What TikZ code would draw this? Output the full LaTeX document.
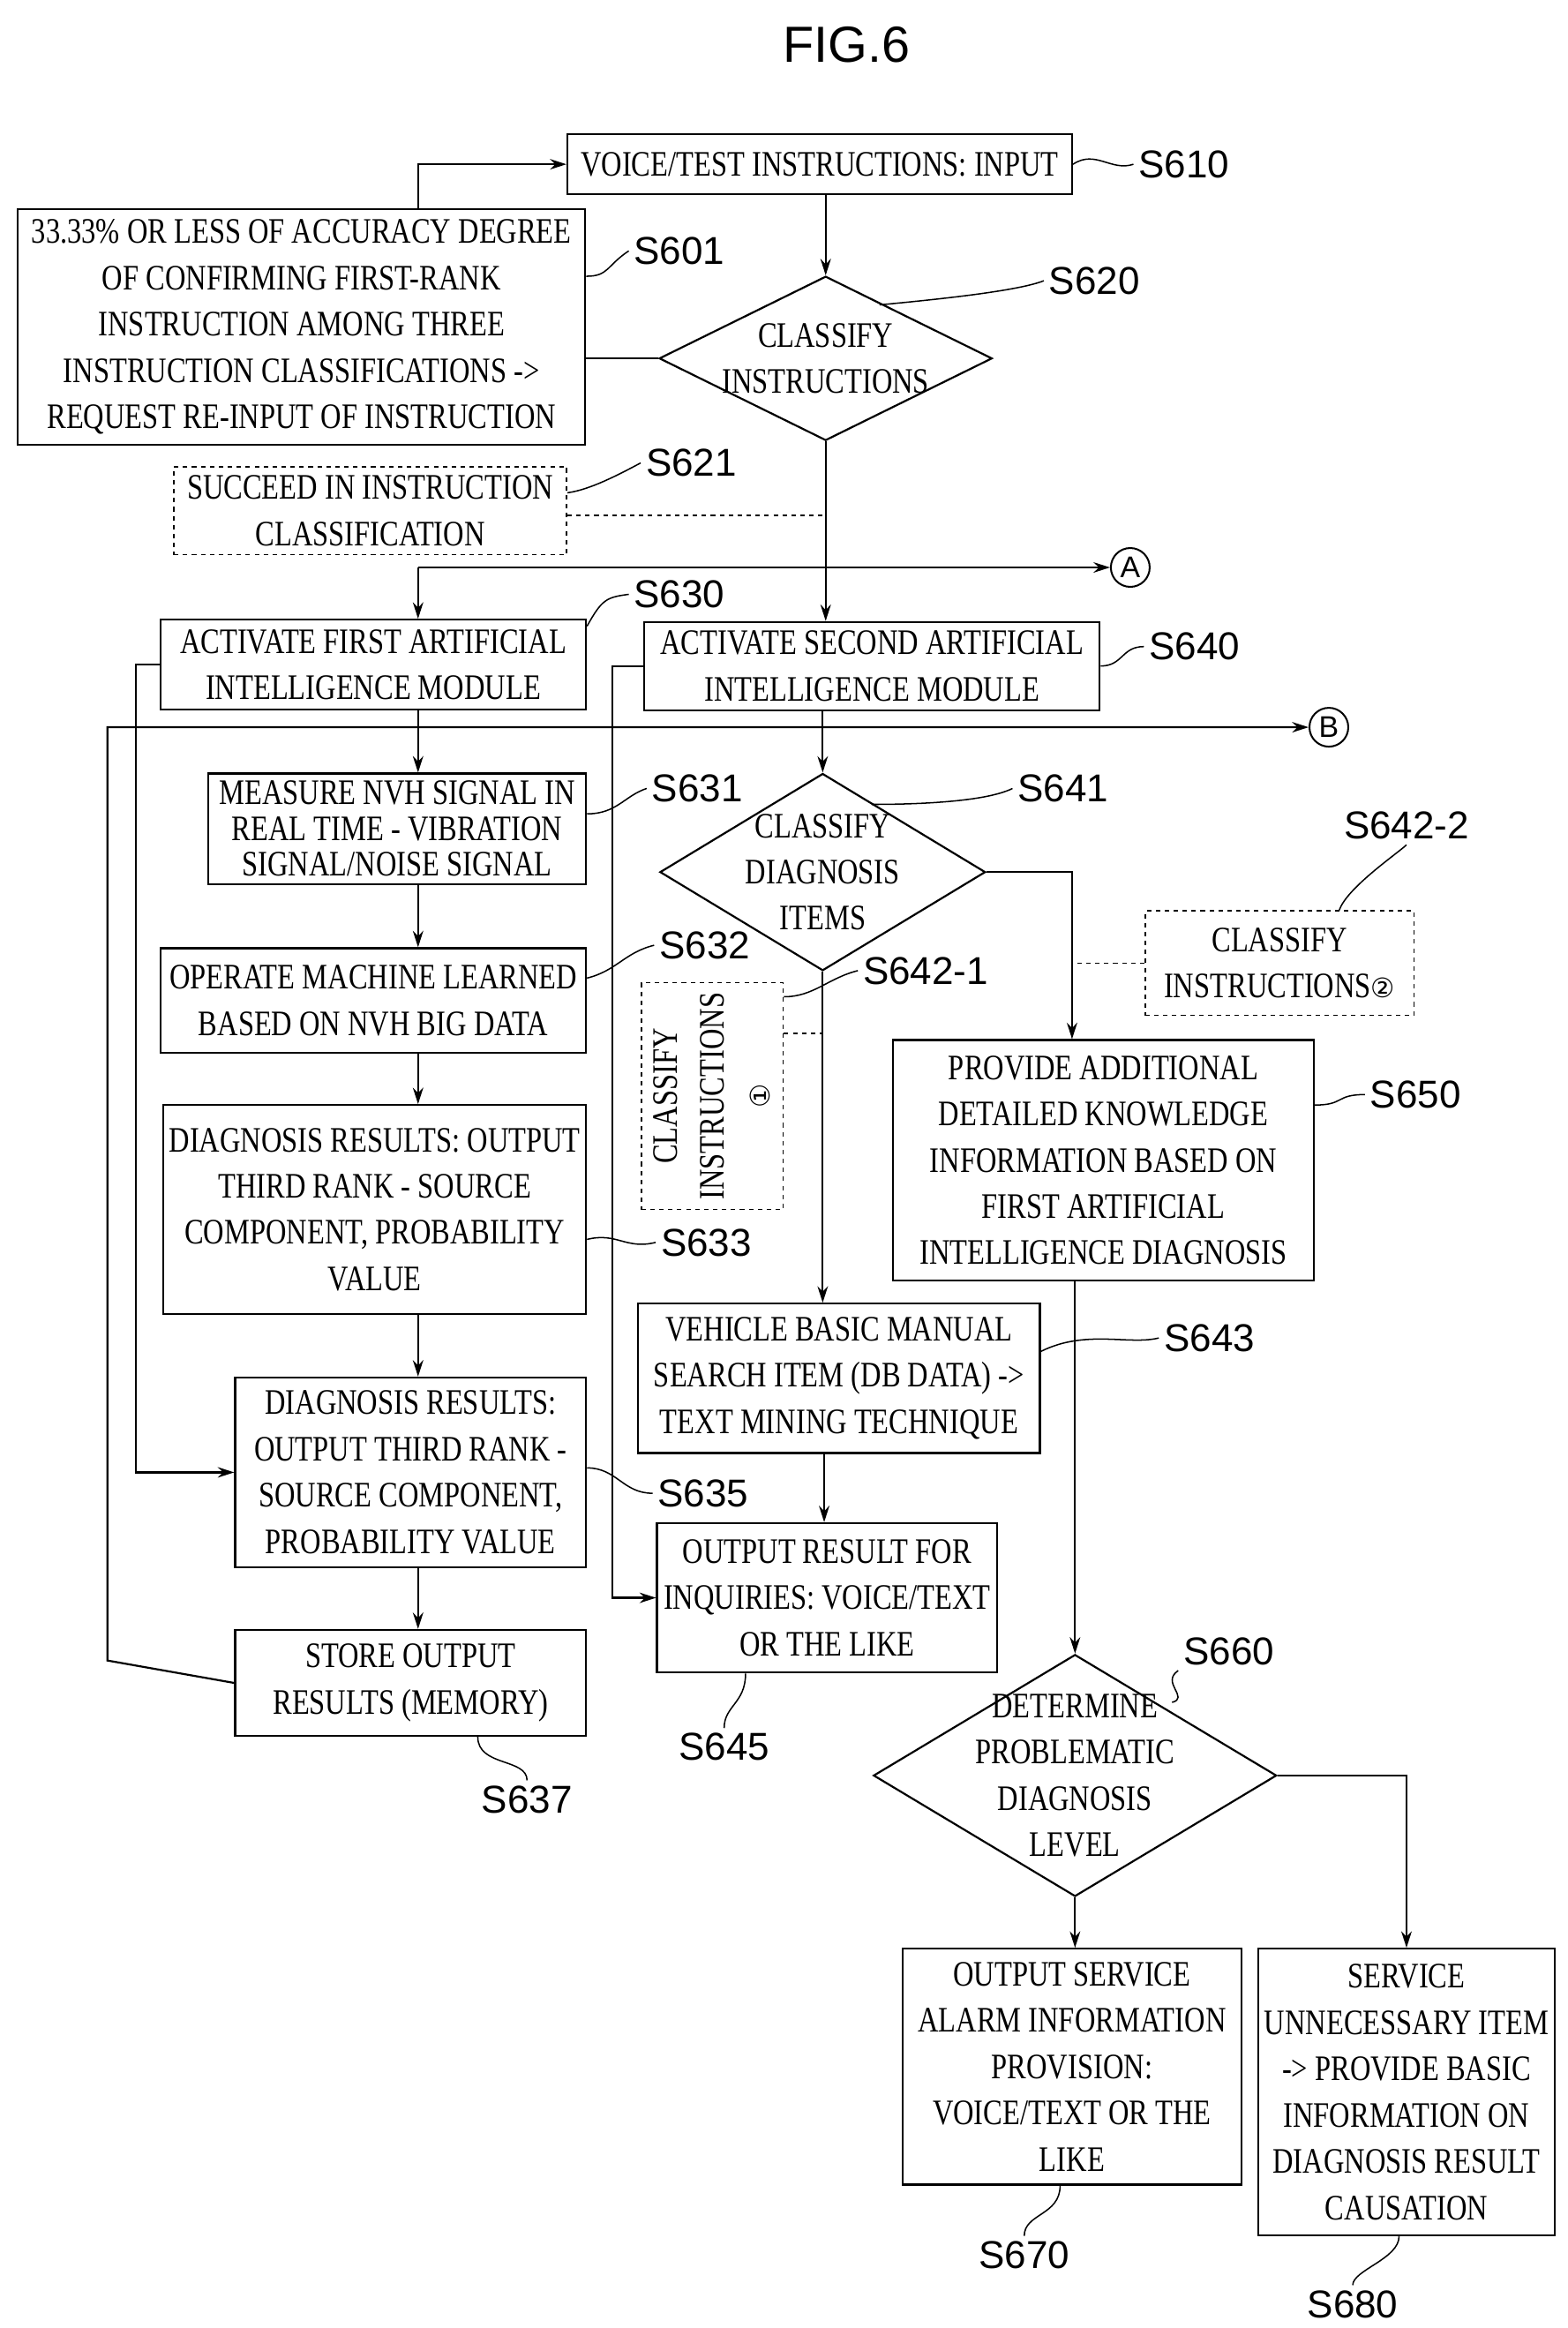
\documentclass[tikz,border=0pt]{standalone}
\usepackage{fontspec}
\setmainfont{Liberation Serif}[FakeStretch=0.8]
\newfontfamily\lab{Liberation Sans}
\newfontfamily\sym{DejaVu Sans}
\usetikzlibrary{shapes.geometric,arrows.meta}
\begin{document}
\begin{tikzpicture}[x=1pt,y=-1pt,
  box/.style={draw,line width=1.3pt,align=center,inner sep=0pt,font=\fontsize{24}{31}\selectfont},
  dbox/.style={box,dashed,line width=1pt},
  dia/.style={diamond,draw,line width=1.3pt,inner sep=0pt},
  txt/.style={align=center,font=\fontsize{24}{31}\selectfont},
  lb/.style={font=\lab\fontsize{26}{28}\selectfont},
  ar/.style={line width=1.3pt,-{Stealth[length=11pt,width=7pt]}},
  ln/.style={line width=1.3pt},
  sq/.style={line width=0.9pt}]
\useasboundingbox (0,0) rectangle (1050,1559);
\node[font=\lab\fontsize{34}{36}\selectfont] (fig) at (567,30) {FIG.6};
% boxes
\node[box,minimum width=338,minimum height=40] (s610) at (549,110) {VOICE/TEST INSTRUCTIONS: INPUT};
\node[box,minimum width=380,minimum height=158] (s601) at (202,219) {33.33\% OR LESS OF ACCURACY DEGREE\\OF CONFIRMING FIRST-RANK\\INSTRUCTION AMONG THREE\\INSTRUCTION CLASSIFICATIONS ->\\REQUEST RE-INPUT OF INSTRUCTION};
\node[dia,minimum width=223,minimum height=110] (s620) at (553,240) {};
\node[txt] at (s620) {CLASSIFY\\INSTRUCTIONS};
\node[dbox,minimum width=263,minimum height=59] (s621) at (248,342) {SUCCEED IN INSTRUCTION\\CLASSIFICATION};
\node[box,minimum width=285,minimum height=60] (s630) at (250,445) {ACTIVATE FIRST ARTIFICIAL\\INTELLIGENCE MODULE};
\node[box,minimum width=305,minimum height=59] (s640) at (584,446) {ACTIVATE SECOND ARTIFICIAL\\INTELLIGENCE MODULE};
\node[box,minimum width=253,minimum height=74,font=\fontsize{24}{24}\selectfont] (s631) at (266,555) {MEASURE NVH SIGNAL IN\\REAL TIME - VIBRATION\\SIGNAL/NOISE SIGNAL};
\node[box,minimum width=285,minimum height=70] (s632) at (250,670) {OPERATE MACHINE LEARNED\\BASED ON NVH BIG DATA};
\node[box,minimum width=283,minimum height=140] (s633) at (251,810) {DIAGNOSIS RESULTS: OUTPUT\\THIRD RANK - SOURCE\\COMPONENT, PROBABILITY\\VALUE};
\node[box,minimum width=235,minimum height=127] (s635) at (275,986) {DIAGNOSIS RESULTS:\\OUTPUT THIRD RANK -\\SOURCE COMPONENT,\\PROBABILITY VALUE};
\node[box,minimum width=235,minimum height=71] (s637) at (275,1127) {STORE OUTPUT\\RESULTS (MEMORY)};
\node[dia,minimum width=218,minimum height=132] (s641) at (551,584) {};
\node[txt] at (s641) {CLASSIFY\\DIAGNOSIS\\ITEMS};
\node[dbox,minimum width=95,minimum height=152] (s6421) at (477,734) {};
\node[txt,rotate=90] at (s6421) {CLASSIFY\\INSTRUCTIONS\\{\sym\fontsize{18}{20}\selectfont ①}};
\node[dbox,minimum width=180,minimum height=70] (s6422) at (857,645) {CLASSIFY\\INSTRUCTIONS{\sym\fontsize{18}{20}\selectfont ②}};
\node[box,minimum width=282,minimum height=161] (s650) at (739,777) {PROVIDE ADDITIONAL\\DETAILED KNOWLEDGE\\INFORMATION BASED ON\\FIRST ARTIFICIAL\\INTELLIGENCE DIAGNOSIS};
\node[box,minimum width=269,minimum height=100] (s643) at (562,923) {VEHICLE BASIC MANUAL\\SEARCH ITEM (DB DATA) ->\\TEXT MINING TECHNIQUE};
\node[box,minimum width=228,minimum height=100] (s645) at (554,1070) {OUTPUT RESULT FOR\\INQUIRIES: VOICE/TEXT\\OR THE LIKE};
\node[dia,minimum width=270,minimum height=162] (s660) at (720,1189) {};
\node[txt] at (s660) {DETERMINE\\PROBLEMATIC\\DIAGNOSIS\\LEVEL};
\node[box,minimum width=227,minimum height=158] (s670) at (718,1384) {OUTPUT SERVICE\\ALARM INFORMATION\\PROVISION:\\VOICE/TEXT OR THE\\LIKE};
\node[box,minimum width=199,minimum height=192] (s680) at (942,1401) {SERVICE\\UNNECESSARY ITEM\\-> PROVIDE BASIC\\INFORMATION ON\\DIAGNOSIS RESULT\\CAUSATION};
\node[draw,circle,line width=1.2pt,minimum size=26,inner sep=0pt,font=\lab\fontsize{20}{20}\selectfont] (A) at (757,380) {A};
\node[draw,circle,line width=1.2pt,minimum size=26,inner sep=0pt,font=\lab\fontsize{20}{20}\selectfont] (B) at (890,487) {B};
% labels
\node[lb] (l610) at (793,110) {S610};
\node[lb] (l601) at (455,168) {S601};
\node[lb] (l620) at (733,188) {S620};
\node[lb] (l621) at (463,310) {S621};
\node[lb] (l630) at (455,398) {S630};
\node[lb] (l640) at (800,433) {S640};
\node[lb] (l631) at (467,528) {S631};
\node[lb] (l641) at (712,528) {S641};
\node[lb] (l6422) at (942,553) {S642-2};
\node[lb] (l632) at (472,633) {S632};
\node[lb] (l6421) at (620,650) {S642-1};
\node[lb] (l650) at (948,733) {S650};
\node[lb] (l633) at (473,832) {S633};
\node[lb] (l643) at (810,896) {S643};
\node[lb] (l635) at (471,1000) {S635};
\node[lb] (l660) at (823,1106) {S660};
\node[lb] (l645) at (485,1170) {S645};
\node[lb] (l637) at (353,1205) {S637};
\node[lb] (l670) at (686,1510) {S670};
\node[lb] (l680) at (906,1543) {S680};
\coordinate (c660) at (785,1140);
% squiggles
\draw[sq] (s610.east) .. controls +(15,-10) and +(-15,5) .. (l610.west);
\draw[sq] (s601.east |- 0,185) .. controls +(15,0) and +(-15,10) .. (l601.west);
\draw[sq] (s620.north east) ++(-20,-8) .. controls +(20,-2) and +(-20,8) .. (l620.west);
\draw[sq] (s621.east |- 0,330) .. controls +(15,-2) and +(-15,8) .. (l621.west);
\draw[sq] (s630.north east) ++(0,5) .. controls +(10,-18) and +(-15,2) .. (l630.west);
\draw[sq] (s640.east) .. controls +(15,0) and +(-15,0) .. (l640.west);
\draw[sq] (s631.east |- 0,545) .. controls +(20,0) and +(-15,5) .. (l631.west);
\draw[sq] (s641.north east) ++(-22,-12) .. controls +(20,0) and +(-20,10) .. (l641.west);
\draw[sq] (s6422.north) ++(40,0) .. controls +(5,-15) and +(-5,5) .. (l6422.south);
\draw[sq] (s632.east |- 0,655) .. controls +(20,-5) and +(-20,5) .. (l632.west);
\draw[sq] (s6421.north east) ++(0,10) .. controls +(20,0) and +(-20,5) .. (l6421.west);
\draw[sq] (s650.east |- 0,740) .. controls +(20,0) and +(-20,0) .. (l650.west);
\draw[sq] (s633.east |- 0,830) .. controls +(20,-5) and +(-20,5) .. (l633.west);
\draw[sq] (s643.east |- 0,905) .. controls +(30,-15) and +(-20,5) .. (l643.west);
\draw[sq] (s635.east |- 0,983) .. controls +(20,0) and +(-20,0) .. (l635.west);
\draw[sq] (c660) .. controls +(12,-3) and +(-12,8) .. (l660.south west);
\draw[sq] (s645.south west) ++(60,0) .. controls +(0,20) and +(0,-15) .. (l645.north);
\draw[sq] (s637.south) ++(45,0) .. controls +(0,20) and +(0,-15) .. (l637.north);
\draw[sq] (s670.south) ++(-8,0) .. controls +(0,20) and +(0,-15) .. (l670.north);
\draw[sq] (s680.south) ++(-5,0) .. controls +(0,15) and +(0,-10) .. (l680.north);
% connectors
\draw[ar] (s601.north -| 280,0) |- (s610.west);
\draw[ar] (s610.south -| s620.north) -- (s620.north);
\draw[ln] (s620.west) -- (s601.east |- s620.west);
\draw[ln,dashed,line width=1pt] (s621.east |- 0,345) -- (553,345);
\draw[ar] (s620.south) -- (s640.north -| s620.south);
\draw[ar] (280,380) -- (A.west);
\draw[ar] (280,380) -- (s630.north -| 280,0);
\draw[ar] (s630.west) -- ++(-16,0) |- (s635.west);
\draw[ar] (s640.west) -- (410,446) |- (s645.west);
\draw[ar] (s637.west) -- (72,1112) |- (B.west);
\draw[ar] (s630.south -| 280,0) -- (s631.north -| 280,0);
\draw[ar] (s631.south -| 280,0) -- (s632.north -| 280,0);
\draw[ar] (s632.south -| 280,0) -- (s633.north -| 280,0);
\draw[ar] (s633.south -| 280,0) -- (s635.north -| 280,0);
\draw[ar] (s635.south -| 280,0) -- (s637.north -| 280,0);
\draw[ar] (s640.south -| s641.north) -- (s641.north);
\draw[ar] (s641.east) -| (s650.north -| 718,0);
\draw[ar] (s641.south) -- (s643.north -| s641.south);
\draw[ln,dashed,line width=1pt] (s6421.east |- 0,692) -- (551,692);
\draw[ln,dashed,line width=1pt] (s6422.west) -- (718,645);
\draw[ar] (s643.south -| 552,0) -- (s645.north -| 552,0);
\draw[ar] (s650.south -| s660.north) -- (s660.north);
\draw[ar] (s660.south) -- (s670.north -| s660.south);
\draw[ar] (s660.east) -| (s680.north);
\end{tikzpicture}
\end{document}
